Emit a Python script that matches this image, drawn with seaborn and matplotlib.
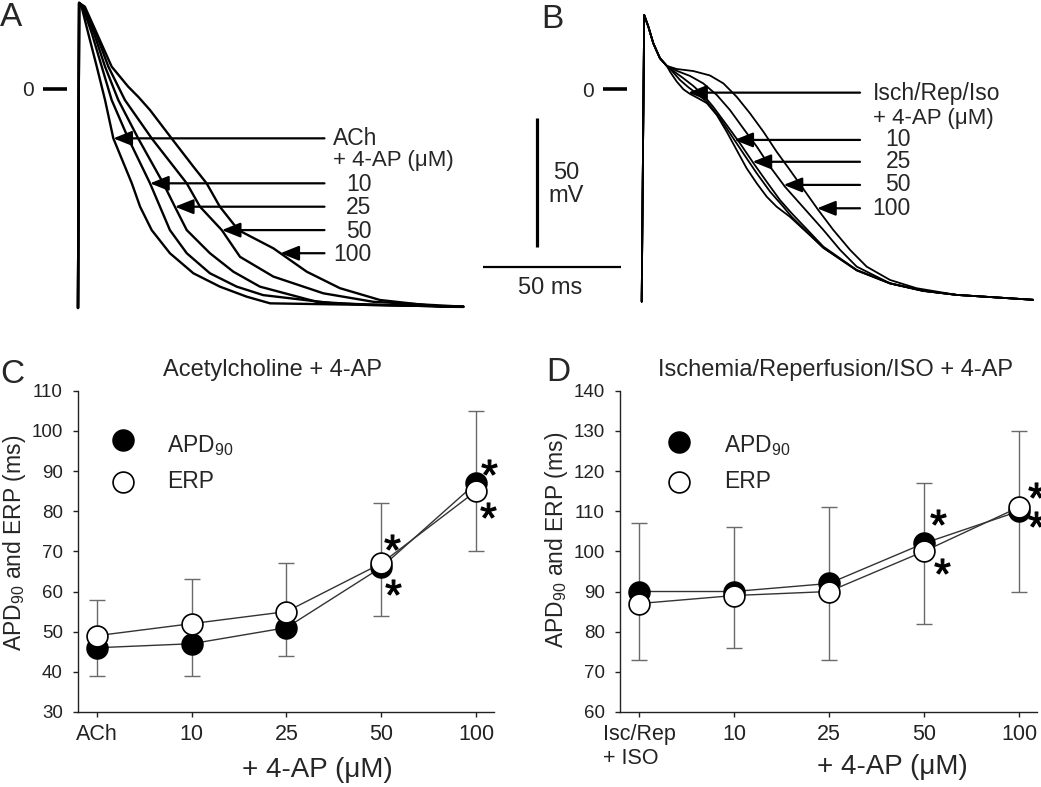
import numpy as np
import pandas as pd
import matplotlib
matplotlib.use('Agg')
import matplotlib.pyplot as plt
import seaborn as sns

# ---------------- data ----------------
# Panel A: action potentials, ACh + 4-AP (time ms, voltage mV)
a_ach_t = [0, 0.4, 1.3, 3.7, 6.8, 9.8, 12.8, 19.5, 22.5, 26.7, 33.3, 41.8, 51.4, 61.1, 69.6, 104.6, 139.6]
a_ach_v = [-85.2, 33.5, 32.0, 21.7, 8.7, -4.3, -19.2, -36.7, -45.8, -54.9, -63.9, -71.7, -76.9, -80.8, -83.4, -84.0, -84.7]
a_10_t = [0, 0.4, 1.7, 5.0, 8.6, 12.2, 18.2, 26.1, 29.7, 33.3, 39.4, 47.8, 57.5, 67.1, 92.5, 116.7, 139.6]
a_10_v = [-85.2, 33.5, 32.0, 21.7, 8.7, -4.3, -19.2, -36.7, -45.8, -54.9, -63.9, -71.7, -76.9, -80.2, -83.4, -84.2, -84.7]
a_25_t = [0, 0.4, 1.9, 5.8, 9.8, 14.6, 21.8, 30.9, 35.1, 39.4, 47.8, 56.3, 65.9, 86.5, 104.6, 139.6]
a_25_v = [-85.2, 33.5, 32.0, 21.7, 8.7, -4.3, -19.2, -36.7, -45.8, -54.9, -63.9, -71.1, -76.9, -82.8, -84.0, -84.7]
a_50_t = [0, 0.4, 2.2, 6.5, 11.0, 17.0, 26.7, 39.4, 44.2, 52.1, 58.7, 70.8, 88.9, 107.0, 139.6]
a_50_v = [-85.2, 33.5, 32.0, 21.7, 8.7, -4.3, -19.2, -36.7, -45.8, -54.9, -65.3, -73.0, -79.5, -82.8, -84.7]
a_100_t = [0, 0.4, 2.5, 6.8, 12.2, 18.2, 21.8, 26.1, 33.9, 41.8, 46.6, 51.4, 58.1, 70.8, 82.9, 94.9, 109.4, 131.2, 139.6]
a_100_v = [-85.2, 33.5, 32.0, 21.7, 8.7, 0.9, -3.0, -8.2, -19.2, -30.2, -36.7, -45.8, -54.9, -62.0, -71.1, -77.5, -82.1, -84.7, -84.8]
a_levels = [-19.2, -36.7, -45.8, -54.9, -63.9]

# Panel B: action potentials, Isch/Rep/Iso + 4-AP
b_isch_t = [0, 0.9, 2.4, 4.2, 6.6, 9.1, 10.3, 12.7, 15.1, 17.5, 20.5, 23.6, 27.2, 30.8, 34.4, 38.0, 41.7, 45.3, 48.9, 53.7, 65.8, 77.9, 90.0, 102.0, 114.1, 141.8]
b_isch_v = [-82.6, 28.9, 24.4, 17.9, 12.1, 9.1, 6.8, 3.0, 0.0, -1.8, -3.5, -5.4, -10.0, -16.5, -23.6, -30.7, -36.6, -41.8, -45.7, -49.6, -61.6, -70.5, -75.6, -78.5, -80.0, -81.9]
b_10_t = [0, 0.9, 2.4, 4.2, 6.6, 9.1, 10.9, 13.9, 16.9, 19.9, 23.6, 28.4, 33.2, 36.8, 41.7, 46.5, 51.3, 54.3, 65.8, 77.9, 90.0, 102.0, 114.1, 141.8]
b_10_v = [-82.6, 28.9, 24.4, 17.9, 12.1, 9.1, 7.2, 3.6, 0.8, -1.6, -4.8, -11.3, -19.1, -24.9, -32.7, -39.8, -45.7, -49.6, -61.7, -70.4, -75.5, -78.4, -80.0, -81.9]
b_25_t = [0, 0.9, 2.4, 4.2, 6.6, 9.1, 11.4, 15.1, 18.7, 22.3, 25.9, 30.8, 35.6, 40.4, 45.3, 50.1, 54.3, 65.8, 77.9, 90.0, 102.0, 114.1, 141.8]
b_25_v = [-82.6, 28.9, 24.4, 17.9, 12.1, 9.1, 7.2, 4.3, 1.3, -2.2, -6.8, -13.9, -21.0, -28.6, -36.0, -43.1, -48.2, -61.2, -70.3, -75.5, -78.4, -80.0, -81.9]
b_50_t = [0, 0.9, 2.4, 4.2, 6.6, 9.1, 12.7, 17.5, 22.3, 27.2, 32.0, 36.8, 41.7, 46.5, 51.9, 65.8, 71.9, 77.9, 90.0, 102.0, 114.1, 141.8]
b_50_v = [-82.6, 28.9, 24.4, 17.9, 12.1, 9.1, 7.2, 5.2, 2.3, -2.2, -8.1, -15.2, -22.3, -30.1, -37.9, -54.7, -62.5, -69.0, -75.5, -78.4, -80.0, -81.9]
b_100_t = [0, 0.9, 2.4, 4.2, 6.6, 9.1, 12.7, 18.7, 24.7, 29.6, 34.4, 39.2, 44.1, 48.9, 53.7, 64.0, 69.4, 75.5, 81.5, 90.0, 99.6, 114.1, 141.8]
b_100_v = [-82.6, 28.9, 24.4, 17.9, 12.1, 9.1, 7.9, 7.1, 5.4, 2.3, -2.9, -9.3, -16.5, -24.3, -31.4, -47.0, -54.7, -62.5, -69.0, -74.2, -77.4, -80.0, -81.9]
b_levels = [-1.3, -19.7, -28.2, -37.2, -46.3]

dose_labels = ['10', '25', '50', '100']

# Panel C: Acetylcholine + 4-AP
c_xlabels = ['ACh'] + dose_labels
c_apd = [46, 47, 51, 66, 87]
c_erp = [49, 52, 55, 67, 85]
c_lo = [39, 39, 44, 54, 70]
c_hi = [58, 63, 67, 82, 105]
c_star_pos = [3, 3, 4, 4]
c_star_val = [72.4, 61.2, 91.1, 80.3]

# Panel D: Ischemia/Reperfusion/ISO + 4-AP
d_xlabels = ['Isc/Rep\n+ ISO'] + dose_labels
d_apd = [90, 90, 92, 102, 110]
d_erp = [87, 89, 90, 100, 111]
d_lo = [73, 76, 73, 82, 90]
d_hi = [107, 106, 111, 117, 130]
d_star_pos = [3, 3, 4, 4]
d_star_val = [108.6, 96.3, 115.3, 108.0]

# ---------------- style ----------------
sns.set_style('ticks')
plt.rcParams['font.family'] = ['Liberation Sans', 'DejaVu Sans']
plt.rcParams['mathtext.default'] = 'regular'

W, H = 1041, 787
PX_MS, PX_MV = 2.76, 2.57
fig = plt.figure(figsize=(W / 100, H / 100), dpi=100)


def fx(px):
    return px / W


def fy(py):
    return 1 - py / H


def trace_axes(left, right, t0, v0):
    ax = fig.add_axes([fx(left), fy(315), (right - left) / W, 315 / H])
    ax.set_xlim((left - t0) / PX_MS, (right - t0) / PX_MS)
    ax.set_ylim((v0 - 315) / PX_MV, v0 / PX_MV)
    ax.axis('off')
    return ax


def tip_time(t, v, level):
    # time where the repolarisation crosses the given voltage
    return np.interp(level, np.array(v[1:])[::-1], np.array(t[1:])[::-1])


def draw_arrows(ax, traces, levels, x_end, lw):
    for (t, v), lev in zip(traces, levels):
        ax.annotate('', xy=(tip_time(t, v, lev), lev), xytext=(x_end, lev),
                    arrowprops=dict(arrowstyle='-|>,head_length=0.75,head_width=0.3',
                                    mutation_scale=15, lw=lw, color='black',
                                    shrinkA=0, shrinkB=0))


# ---------------- panel A ----------------
axA = trace_axes(0, 475, 78, 89)
a_traces = [(a_ach_t, a_ach_v), (a_10_t, a_10_v), (a_25_t, a_25_v),
            (a_50_t, a_50_v), (a_100_t, a_100_v)]
for t, v in a_traces:
    sns.lineplot(x=t, y=v, ax=axA, color='black', lw=1.7, sort=False, estimator=None)
axA.plot([-12.6, -4.1], [0, 0], color='black', lw=2.6, solid_capstyle='butt')
axA.text(-18.0, -0.4, '0', ha='center', va='center', fontsize=15)
draw_arrows(axA, a_traces, a_levels, 89.3, 1.6)
axA.text(92.5, a_levels[0], 'ACh', ha='left', va='center', fontsize=16.5)
axA.text(92.5, -28.0, '+ 4-AP (\u03bcM)', ha='left', va='center', fontsize=16)
for lab, lev in zip(dose_labels, a_levels[1:]):
    axA.text(106.4, lev - 0.4, lab, ha='right', va='center', fontsize=16.5)

# ---------------- panel B ----------------
axB = trace_axes(470, 1041, 641.7, 89.3)
b_traces = [(b_isch_t, b_isch_v), (b_10_t, b_10_v), (b_25_t, b_25_v),
            (b_50_t, b_50_v), (b_100_t, b_100_v)]
for t, v in b_traces:
    sns.lineplot(x=t, y=v, ax=axB, color='black', lw=1.3, sort=False, estimator=None)
axB.plot([-13.9, -5.2], [0, 0], color='black', lw=2.6, solid_capstyle='butt')
axB.text(-19.5, -0.9, '0', ha='center', va='center', fontsize=15)
draw_arrows(axB, b_traces, b_levels, 79.1, 1.6)
axB.text(83.9, -1.6, 'Isch/Rep/Iso', ha='left', va='center', fontsize=16.5)
axB.text(83.9, -11.3, '+ 4-AP (\u03bcM)', ha='left', va='center', fontsize=16)
for lab, lev in zip(dose_labels, b_levels[1:]):
    axB.text(97.5, lev, lab, ha='right', va='center', fontsize=16.5)
# scale bars 50 mV / 50 ms
axB.plot([-37.8, -37.8], [-11.3, -61.3], color='black', lw=2.3, solid_capstyle='butt')
axB.plot([-57.6, -7.6], [-69.0, -69.0], color='black', lw=1.6, solid_capstyle='butt')
axB.text(-27.4, -36.9, '50\nmV', ha='center', va='center', fontsize=17, linespacing=1.05)
axB.text(-33.2, -77.5, '50 ms', ha='center', va='center', fontsize=17)

fig.text(fx(11), fy(18), 'A', ha='center', va='center', fontsize=24)
fig.text(fx(552), fy(20), 'B', ha='center', va='center', fontsize=24)


# ---------------- panels C and D ----------------
def summary_panel(rect, xlabels, apd, erp, lo, hi, ylim, star_pos, star_val, star_dx,
                  leg_x, leg_y, txt_x, txt_y, ylab_xy, xlab_xy):
    ax = fig.add_axes(rect)
    df = pd.DataFrame({'pos': np.arange(len(apd)), 'APD90': apd, 'ERP': erp})
    apd_a = np.array(apd, float)
    ax.errorbar(df['pos'], apd_a, yerr=[apd_a - np.array(lo), np.array(hi) - apd_a],
                fmt='none', ecolor='#6a6a6a', elinewidth=1.0, capsize=6, capthick=1.0, zorder=2)
    sns.lineplot(data=df, x='pos', y='APD90', ax=ax, color='#333333', lw=1.0,
                 marker='o', markersize=15, markerfacecolor='black',
                 markeredgecolor='black', markeredgewidth=1.2, zorder=3)
    sns.lineplot(data=df, x='pos', y='ERP', ax=ax, color='#333333', lw=1.0,
                 marker='o', markersize=15, markerfacecolor='white',
                 markeredgecolor='black', markeredgewidth=1.2, zorder=4)
    # significance asterisks, drawn as glyph markers
    ax.plot(np.array(star_pos) + np.array(star_dx), star_val, linestyle='none',
            marker='$*$', ms=11, color='black', mec='black', mew=0.8, clip_on=False, zorder=5)
    ax.set_xlim(-0.2, len(apd) - 1 + 0.19)
    ax.set_ylim(*ylim)
    ax.set_yticks(np.arange(ylim[0], ylim[1] + 1, 10))
    ax.set_xticks(df['pos'])
    ax.set_xticklabels(xlabels)
    ax.tick_params(axis='y', labelsize=13.5, length=3.5, width=1, pad=7.5, colors='#222')
    ax.tick_params(axis='x', labelsize=15.5, length=3.5, width=1, pad=5, colors='#222')
    for lab in ax.get_xticklabels():
        lab.set_multialignment('left')
    sns.despine(ax=ax)
    for s in ['left', 'bottom']:
        ax.spines[s].set_linewidth(1.0)
        ax.spines[s].set_color('#222')
    ax.set_ylabel('APD$_{90}$ and ERP (ms)', fontsize=16.5)
    ax.yaxis.set_label_coords(*ylab_xy)
    ax.set_xlabel('+ 4-AP (\u03bcM)', fontsize=20)
    ax.xaxis.set_label_coords(*xlab_xy)
    # legend
    ax.plot([leg_x], [leg_y[0]], 'o', ms=15, mfc='black', mec='black', mew=1.2,
            transform=ax.transAxes, clip_on=False)
    ax.plot([leg_x], [leg_y[1]], 'o', ms=15, mfc='white', mec='black', mew=1.2,
            transform=ax.transAxes, clip_on=False)
    ax.text(txt_x, txt_y[0], 'APD$_{90}$', transform=ax.transAxes, fontsize=16.5, va='baseline')
    ax.text(txt_x, txt_y[1], 'ERP', transform=ax.transAxes, fontsize=16.5, va='baseline')
    return ax


ax_h = (712 - 390.7) / H
axC = summary_panel([fx(78), fy(712), (494 - 78) / W, ax_h], c_xlabels, c_apd, c_erp,
                    c_lo, c_hi, (30, 110), c_star_pos, c_star_val, [0.11, 0.12, 0.14, 0.13],
                    0.108, (0.847, 0.716), 0.214, (0.810, 0.696),
                    (-0.12, 0.5275), (0.5745, -0.14))
axD = summary_panel([fx(620), fy(712), (1037 - 620) / W, ax_h], d_xlabels, d_apd, d_erp,
                    d_lo, d_hi, (60, 140), d_star_pos, d_star_val, [0.15, 0.19, 0.18, 0.18],
                    0.1415, (0.841, 0.717), 0.249, (0.810, 0.696),
                    (-0.12, 0.535), (0.653, -0.13))

fig.text(fx(272.5), fy(370), 'Acetylcholine + 4-AP', ha='center', va='center', fontsize=17)
fig.text(fx(836), fy(370), 'Ischemia/Reperfusion/ISO + 4-AP', ha='center', va='center', fontsize=17)
fig.text(fx(12.5), fy(374.5), 'C', ha='center', va='center', fontsize=24)
fig.text(fx(558), fy(372.5), 'D', ha='center', va='center', fontsize=24)

fig.savefig('out.png', dpi=100)
